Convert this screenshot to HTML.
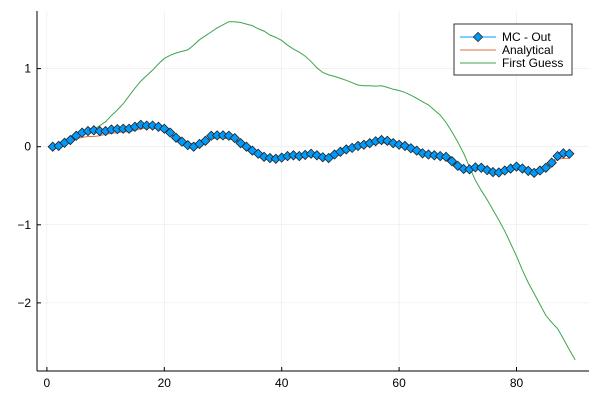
<!DOCTYPE html>
<html><head><meta charset="utf-8"><style>
body{margin:0;background:#fff}
svg{display:block;font-family:"Liberation Sans","DejaVu Sans",sans-serif}
</style></head><body>
<svg id="chart" width="600" height="400" viewBox="0 0 600 400" xmlns="http://www.w3.org/2000/svg">
<rect width="600" height="400" fill="#fff"/>
<g id="grid"></g>
<g id="series"></g>
<g id="axes"></g>
<g id="legend"></g>
</svg>
<script>
const xTicks=[0,20,40,60,80];
const yTicks=[1,0,-1,-2];
const yTickLabels=["1","0","\u22121","\u22122"];
const mcOut=[0,0.01,0.05,0.085,0.14,0.18,0.2,0.21,0.2,0.2,0.22,0.225,0.23,0.23,0.255,0.28,0.27,0.27,0.255,0.23,0.18,0.115,0.065,0.02,0,0.035,0.075,0.14,0.145,0.145,0.14,0.11,0.045,0,-0.05,-0.09,-0.13,-0.145,-0.155,-0.14,-0.12,-0.11,-0.12,-0.105,-0.09,-0.11,-0.135,-0.145,-0.1,-0.065,-0.035,-0.015,0.01,0.025,0.045,0.07,0.085,0.075,0.045,0.025,0.01,-0.02,-0.05,-0.085,-0.1,-0.11,-0.12,-0.13,-0.185,-0.245,-0.285,-0.29,-0.265,-0.27,-0.3,-0.325,-0.33,-0.305,-0.28,-0.255,-0.28,-0.31,-0.335,-0.305,-0.27,-0.205,-0.12,-0.085,-0.09];
const analytical=[0,0.01,0.04,0.07,0.10,0.12,0.13,0.13,0.14,0.16,0.17,0.18,0.19,0.19,0.21,0.23,0.24,0.24,0.23,0.20,0.16,0.11,0.07,0.04,0.04,0.06,0.08,0.10,0.11,0.11,0.10,0.08,0.04,-0.01,-0.05,-0.09,-0.12,-0.13,-0.13,-0.12,-0.12,-0.12,-0.12,-0.12,-0.12,-0.13,-0.15,-0.14,-0.11,-0.08,-0.05,-0.03,-0.01,0.01,0.02,0.04,0.05,0.04,0.02,0.01,-0.01,-0.03,-0.06,-0.08,-0.10,-0.11,-0.12,-0.14,-0.18,-0.23,-0.26,-0.27,-0.27,-0.28,-0.30,-0.32,-0.32,-0.30,-0.28,-0.28,-0.29,-0.31,-0.33,-0.31,-0.27,-0.21,-0.16,-0.15,-0.15];
const firstGuess=[0,0.02,0.05,0.08,0.11,0.15,0.18,0.22,0.27,0.32,0.40,0.47,0.55,0.65,0.75,0.84,0.91,0.98,1.06,1.13,1.17,1.20,1.22,1.24,1.30,1.37,1.42,1.47,1.52,1.56,1.60,1.60,1.59,1.57,1.55,1.51,1.48,1.43,1.40,1.36,1.30,1.25,1.21,1.16,1.09,1.01,0.95,0.92,0.90,0.875,0.85,0.82,0.79,0.78,0.78,0.775,0.78,0.76,0.735,0.72,0.695,0.66,0.62,0.575,0.535,0.47,0.405,0.31,0.19,0.06,-0.085,-0.26,-0.43,-0.56,-0.68,-0.81,-0.94,-1.08,-1.24,-1.40,-1.58,-1.74,-1.88,-2.02,-2.16,-2.25,-2.33,-2.46,-2.60,-2.73];
const seriesNames=["MC - Out","Analytical","First Guess"];

const NS="http://www.w3.org/2000/svg";
const L=37,R=589,T=11,B=371;
const xS=v=>46.9+v*5.87;
const yS=v=>146.7-v*78.1;
function mk(tag,attrs,parent){const e=document.createElementNS(NS,tag);for(const k in attrs)e.setAttribute(k,attrs[k]);parent.appendChild(e);return e;}
const grid=document.getElementById('grid'),axes=document.getElementById('axes'),ser=document.getElementById('series'),leg=document.getElementById('legend');

xTicks.forEach(t=>{
  const g=mk('line',{x1:xS(t),x2:xS(t),y1:T,y2:B,stroke:'#000','stroke-opacity':0.1,'stroke-width':0.5},grid);
  
  
  const tk=mk('line',{x1:xS(t),x2:xS(t),y1:B,y2:B-4,stroke:'#000','stroke-width':1},axes);
  
  
  const tx=mk('text',{x:xS(t),y:B+16,'text-anchor':'middle','font-size':12,fill:'#000'},axes);
  tx.textContent=String(t);
  
  
});
yTicks.forEach((t,i)=>{
  const g=mk('line',{x1:L,x2:R,y1:yS(t),y2:yS(t),stroke:'#000','stroke-opacity':0.1,'stroke-width':0.5},grid);
  
  
  const tk=mk('line',{x1:L,x2:L+4,y1:yS(t),y2:yS(t),stroke:'#000','stroke-width':1},axes);
  
  
  const tx=mk('text',{x:L-6,y:yS(t)+4,'text-anchor':'end','font-size':12,fill:'#000'},axes);
  tx.textContent=yTickLabels[i];
  
  
});
const xa=mk('line',{x1:L,x2:R,y1:B,y2:B,stroke:'#000','stroke-width':1},axes);


const ya=mk('line',{x1:L,x2:L,y1:T,y2:B,stroke:'#000','stroke-width':1},axes);



function pts(arr){return arr.map((v,i)=>xS(i+1).toFixed(2)+','+yS(v).toFixed(2)).join(' ');}
const lg=mk('polyline',{points:pts(firstGuess),fill:'none',stroke:'#3DA44D','stroke-width':1},ser);


const la=mk('polyline',{points:pts(analytical),fill:'none',stroke:'#E26F46','stroke-width':1},ser);


const lm=mk('polyline',{points:pts(mcOut),fill:'none',stroke:'#009AFA','stroke-width':1},ser);


function diamond(cx,cy,r){return `${cx},${cy-r} ${cx+r},${cy} ${cx},${cy+r} ${cx-r},${cy}`;}
mcOut.forEach((v,i)=>{
  const d=mk('polygon',{points:diamond(xS(i+1),yS(v),4.6),fill:'#009AFA',stroke:'#222','stroke-width':0.8},ser);
  
  
});

const box=mk('rect',{x:454,y:24,width:118,height:51,fill:'#fff',stroke:'#000','stroke-width':0.8},leg);


const cols=['#009AFA','#E26F46','#3DA44D'];
seriesNames.forEach((n,i)=>{
  const y=37+i*13;
  const ln=mk('line',{x1:460,x2:496,y1:y,y2:y,stroke:cols[i],'stroke-width':1},leg);
  
  
  if(i===0){
    const d=mk('polygon',{points:diamond(478,y,4.6),fill:'#009AFA',stroke:'#222','stroke-width':0.8},leg);
    
    
  }
  const t=mk('text',{x:502,y:y+4,'font-size':12,fill:'#000'},leg);
  t.textContent=n;
  
  
});
</script>
</body></html>
